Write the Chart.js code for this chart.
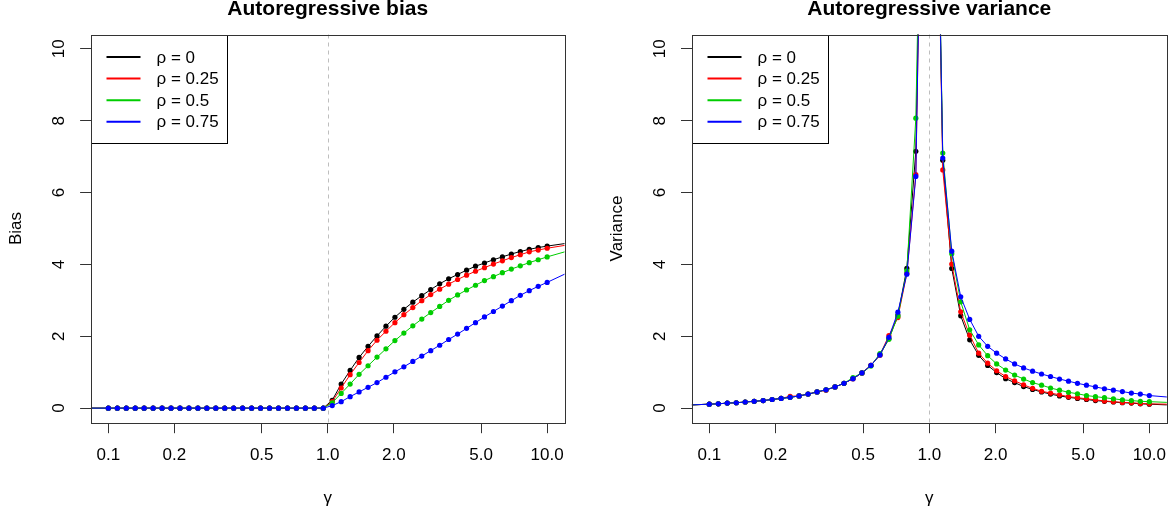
<!DOCTYPE html>
<html>
<head>
<meta charset="utf-8">
<script src="https://cdn.jsdelivr.net/npm/chart.js@4.4.1/dist/chart.umd.min.js"></script>
<style>
  body { margin: 0; background: #fff; width: 1173px; height: 512px; overflow: hidden; position: relative; }
  canvas { position: absolute; top: 0; }
</style>
</head>
<body>
<canvas id="bias-chart" width="586" height="512" style="left:0"></canvas>
<canvas id="variance-chart" width="587" height="512" style="left:586px"></canvas>
<script>
// gamma grid (log spaced, 0.1 .. 10)
const gammas = [0.1, 0.1099, 0.1207, 0.1326, 0.1456, 0.16, 0.1758, 0.1931, 0.2121, 0.233,
  0.256, 0.2812, 0.3089, 0.3393, 0.3728, 0.4095, 0.4498, 0.4942, 0.5429, 0.5964,
  0.6551, 0.7197, 0.7906, 0.8685, 0.9541, 1.0481, 1.1514, 1.2649, 1.3895, 1.5264,
  1.6768, 1.8421, 2.0236, 2.223, 2.4421, 2.6827, 2.9471, 3.2375, 3.5565, 3.907,
  4.2919, 4.7149, 5.1795, 5.6899, 6.2506, 6.8665, 7.5431, 8.2864, 9.103, 10];

const rhoLabels = ["ρ = 0", "ρ = 0.25", "ρ = 0.5", "ρ = 0.75"];
const seriesColors = ["#000000", "#FF0000", "#00CD00", "#0000FF"];

const xTicks = [0.1, 0.2, 0.5, 1, 2, 5, 10];
const xTickLabels = ["0.1", "0.2", "0.5", "1.0", "2.0", "5.0", "10.0"];
const yTicks = [0, 2, 4, 6, 8, 10];
const yTickLabels = ["0", "2", "4", "6", "8", "10"];
const xMin = 0.0832, xMax = 12.02, yMin = -0.4, yMax = 10.4;
const gammaRef = 1;

// bias
const biasRho0 = [0, 0, 0, 0, 0, 0, 0, 0, 0, 0, 0, 0, 0, 0, 0, 0, 0, 0, 0, 0, 0, 0, 0, 0, 0,
  0.22, 0.67, 1.05, 1.41, 1.72, 2.01, 2.28, 2.53, 2.75, 2.95, 3.13, 3.30, 3.46, 3.60, 3.72,
  3.84, 3.95, 4.04, 4.13, 4.21, 4.29, 4.36, 4.42, 4.47, 4.51];
const biasRho025 = [0, 0, 0, 0, 0, 0, 0, 0, 0, 0, 0, 0, 0, 0, 0, 0, 0, 0, 0, 0, 0, 0, 0, 0, 0,
  0.18, 0.56, 0.93, 1.27, 1.60, 1.89, 2.14, 2.38, 2.60, 2.80, 2.99, 3.16, 3.31, 3.45, 3.58,
  3.70, 3.81, 3.91, 4.01, 4.10, 4.19, 4.27, 4.35, 4.40, 4.45];
const biasRho05 = [0, 0, 0, 0, 0, 0, 0, 0, 0, 0, 0, 0, 0, 0, 0, 0, 0, 0, 0, 0, 0, 0, 0, 0, 0,
  0.15, 0.41, 0.67, 0.94, 1.18, 1.42, 1.65, 1.88, 2.09, 2.29, 2.48, 2.66, 2.83, 3.00, 3.15,
  3.29, 3.42, 3.55, 3.66, 3.77, 3.87, 3.96, 4.05, 4.13, 4.21];
const biasRho075 = [0, 0, 0, 0, 0, 0, 0, 0, 0, 0, 0, 0, 0, 0, 0, 0, 0, 0, 0, 0, 0, 0, 0, 0, 0,
  0.07, 0.18, 0.32, 0.45, 0.58, 0.71, 0.86, 1.01, 1.15, 1.30, 1.45, 1.60, 1.75, 1.91, 2.06,
  2.22, 2.38, 2.54, 2.69, 2.84, 2.99, 3.14, 3.27, 3.39, 3.50];
const biasAtXMin = [0, 0, 0, 0];
const biasAtXMax = [4.58, 4.53, 4.35, 3.73];

// variance
const varRho0 = [0.11, 0.12, 0.14, 0.15, 0.17, 0.19, 0.21, 0.24, 0.27, 0.30,
  0.34, 0.39, 0.45, 0.51, 0.59, 0.69, 0.82, 0.98, 1.19, 1.48,
  1.93, 2.59, 3.89, 7.15, 20.8, 20.8, 6.90, 3.89, 2.57, 1.90,
  1.47, 1.19, 0.99, 0.82, 0.71, 0.60, 0.52, 0.45, 0.39, 0.34,
  0.30, 0.27, 0.24, 0.21, 0.19, 0.17, 0.15, 0.14, 0.12, 0.11];
const varRho025 = [0.11, 0.12, 0.14, 0.15, 0.17, 0.19, 0.21, 0.24, 0.27, 0.33,
  0.34, 0.39, 0.45, 0.50, 0.59, 0.69, 0.82, 0.98, 1.19, 1.48,
  2.02, 2.52, 3.75, 6.50, 20.8, 20.8, 6.63, 4.01, 2.68, 2.03,
  1.53, 1.25, 1.04, 0.88, 0.76, 0.65, 0.55, 0.47, 0.42, 0.37,
  0.32, 0.29, 0.26, 0.23, 0.20, 0.18, 0.16, 0.15, 0.13, 0.12];
const varRho05 = [0.11, 0.12, 0.14, 0.15, 0.17, 0.19, 0.21, 0.24, 0.27, 0.30,
  0.34, 0.39, 0.45, 0.51, 0.59, 0.69, 0.85, 0.98, 1.17, 1.52,
  1.92, 2.56, 3.82, 8.07, 20.8, 20.8, 7.10, 4.30, 2.96, 2.18,
  1.76, 1.46, 1.23, 1.06, 0.92, 0.81, 0.71, 0.64, 0.56, 0.50,
  0.44, 0.40, 0.35, 0.32, 0.29, 0.26, 0.23, 0.21, 0.19, 0.18];
const varRho075 = [0.11, 0.12, 0.14, 0.15, 0.17, 0.19, 0.21, 0.24, 0.27, 0.30,
  0.34, 0.39, 0.45, 0.51, 0.59, 0.69, 0.82, 0.98, 1.19, 1.48,
  1.97, 2.67, 3.73, 6.45, 20.8, 20.8, 6.96, 4.37, 3.10, 2.47,
  2.00, 1.72, 1.53, 1.37, 1.23, 1.12, 1.03, 0.95, 0.88, 0.81,
  0.75, 0.69, 0.64, 0.59, 0.54, 0.50, 0.46, 0.42, 0.39, 0.35];
const varAtXMin = [0.09, 0.09, 0.09, 0.09];
const varAtXMax = [0.09, 0.11, 0.16, 0.31];

const FONT = "'Liberation Sans', Arial, Helvetica, sans-serif";
Chart.defaults.font.family = FONT;
Chart.defaults.color = "#000";

// R style frame, reference line, legend, title and rotated y tick labels
const rPlot = {
  id: "rPlot",
  beforeDatasetsDraw(chart) {
    const { ctx, chartArea: a, scales } = chart;
    const x = Math.round(scales.x.getPixelForValue(gammaRef)) + 0.5;
    ctx.save();
    ctx.strokeStyle = "#BEBEBE";
    ctx.lineWidth = 1;
    ctx.setLineDash([4, 4]);
    ctx.beginPath();
    ctx.moveTo(x, a.top);
    ctx.lineTo(x, a.bottom);
    ctx.stroke();
    ctx.restore();
  },
  afterDatasetsDraw(chart) {
    const { ctx, chartArea: a } = chart;
    ctx.save();
    // legend
    const lx = Math.round(a.left) + 0.5, ly = Math.round(a.top) + 0.5;
    ctx.fillStyle = "#fff";
    ctx.fillRect(lx, ly, 136, 108);
    ctx.strokeStyle = "#000";
    ctx.lineWidth = 1;
    ctx.strokeRect(lx, ly, 136, 108);
    ctx.font = "17px " + FONT;
    ctx.textBaseline = "middle";
    ctx.textAlign = "left";
    rhoLabels.forEach((label, k) => {
      const y = ly + 21.5 + k * 21.6;
      ctx.strokeStyle = seriesColors[k];
      ctx.lineWidth = 2;
      ctx.beginPath();
      ctx.moveTo(lx + 15, y);
      ctx.lineTo(lx + 49, y);
      ctx.stroke();
      ctx.fillStyle = "#000";
      ctx.fillText(label, lx + 65, y + 1);
    });
    // frame
    ctx.strokeStyle = "#333";
    ctx.lineWidth = 1;
    ctx.strokeRect(Math.round(a.left) + 0.5, Math.round(a.top) + 0.5,
      Math.round(a.right - a.left), Math.round(a.bottom - a.top));
    ctx.restore();
  },
  afterDraw(chart) {
    const { ctx, chartArea: a, scales } = chart;
    ctx.save();
    ctx.fillStyle = "#000";
    ctx.font = "bold 21px " + FONT;
    ctx.textAlign = "center";
    ctx.textBaseline = "alphabetic";
    ctx.fillText(chart.options.plugins.rPlot.title, (a.left + a.right) / 2, 15);
    ctx.font = "17px " + FONT;
    ctx.textBaseline = "middle";
    yTicks.forEach((v, k) => {
      const y = scales.y.getPixelForValue(v);
      ctx.save();
      ctx.translate(a.left - 31.5, y);
      ctx.rotate(-Math.PI / 2);
      ctx.fillText(yTickLabels[k], 0, 0);
      ctx.restore();
    });
    ctx.restore();
  },
};

function makeDatasets(series, atMin, atMax) {
  return series.map((vals, k) => {
    const pts = gammas.map((g, i) => ({ x: g, y: vals[i] }));
    return {
      label: rhoLabels[k],
      data: [{ x: xMin, y: atMin[k] }, ...pts, { x: xMax, y: atMax[k] }],
      showLine: true,
      borderColor: seriesColors[k],
      backgroundColor: seriesColors[k],
      borderWidth: 1,
      pointRadius: (c) => (c.dataIndex === 0 || c.dataIndex === gammas.length + 1 ? 0 : 2.6),
      pointBorderWidth: 0,
      pointBackgroundColor: seriesColors[k],
      order: series.length - 1 - k,
      clip: 0,
    };
  });
}

function makePanel(id, title, yLabel, datasets, padLeft, padRight) {
  const axisGrid = { drawOnChartArea: false, drawTicks: true, tickLength: 10.7, color: "#333", lineWidth: 1 };
  return new Chart(document.getElementById(id), {
    type: "scatter",
    data: { datasets },
    options: {
      responsive: false,
      animation: false,
      layout: { padding: { left: padLeft, right: padRight, top: 34.5, bottom: 0 } },
      plugins: {
        legend: { display: false },
        tooltip: { enabled: false },
        title: { display: false },
        rPlot: { title },
      },
      scales: {
        x: {
          type: "logarithmic",
          min: xMin,
          max: xMax,
          afterBuildTicks: (s) => { s.ticks = xTicks.map((v) => ({ value: v })); },
          afterFit: (s) => { s.height = 89.5; s.paddingLeft = 0; s.paddingRight = 0; },
          ticks: {
            callback: (v) => xTickLabels[xTicks.indexOf(v)],
            font: { size: 17 },
            color: "#000",
            padding: 12,
            autoSkip: false,
            maxRotation: 0,
            minRotation: 0,
          },
          grid: axisGrid,
          border: { display: false },
          title: { display: true, text: "γ", font: { size: 17 }, color: "#000", padding: { top: 0, bottom: 3 } },
        },
        y: {
          min: yMin,
          max: yMax,
          afterBuildTicks: (s) => { s.ticks = yTicks.map((v) => ({ value: v })); },
          afterFit: (s) => { s.width = 90.8; s.paddingTop = 0; s.paddingBottom = 0; },
          ticks: { display: false },
          grid: axisGrid,
          border: { display: false },
          title: { display: true, text: yLabel, font: { size: 17 }, color: "#000", padding: { top: 5.8, bottom: 0 } },
        },
      },
    },
    plugins: [rPlot],
  });
}

makePanel("bias-chart", "Autoregressive bias", "Bias",
  makeDatasets([biasRho0, biasRho025, biasRho05, biasRho075], biasAtXMin, biasAtXMax), 0, 21.3);
makePanel("variance-chart", "Autoregressive variance", "Variance",
  makeDatasets([varRho0, varRho025, varRho05, varRho075], varAtXMin, varAtXMax), 14.9, 6.1);
</script>
</body>
</html>
